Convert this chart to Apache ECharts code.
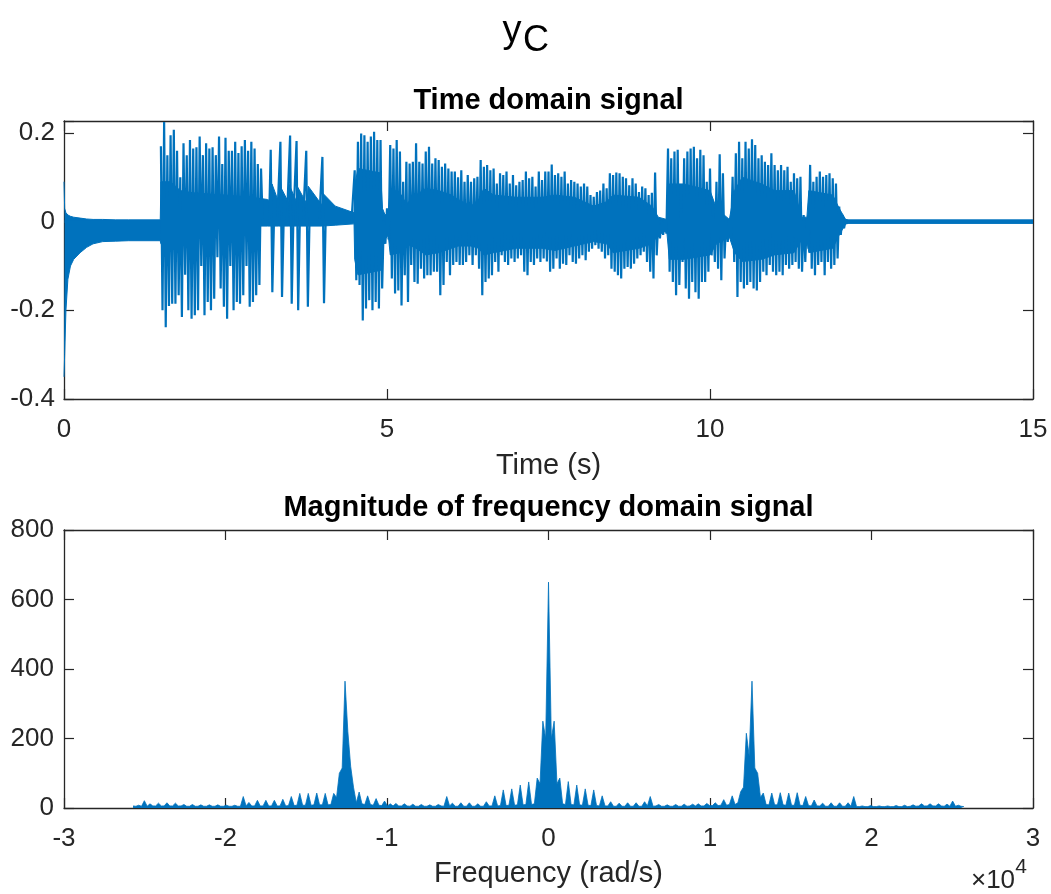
<!DOCTYPE html>
<html><head><meta charset="utf-8">
<script src="https://cdn.jsdelivr.net/npm/echarts@6/dist/echarts.min.js"></script>
<style>html,body{margin:0;padding:0;background:#fff}#c{width:1051px;height:894px}</style>
</head><body><div id="c"></div>
<script>
// ---------- Time-domain signal ----------
// Core (dense body) of the waveform: breakpoint times (s) and upper / lower edges
const bodyT = [0, 0.01, 0.03, 0.06, 0.1, 0.15, 0.25, 0.35, 0.45, 0.6, 0.8, 1.0, 1.49,
  1.5, 1.65, 1.8, 2.0, 2.5, 2.9, 3.15, 3.21, 3.22, 3.32, 3.33, 3.47, 3.48, 3.6, 3.61, 3.76, 3.78, 3.99, 4.0, 4.2, 4.49,
  4.5, 4.55, 4.9, 4.93, 4.97, 5.02, 5.05, 5.2, 5.3, 5.45, 5.6, 5.8, 6.0, 6.1, 6.3, 6.42, 6.5, 6.65, 7.0, 7.4,
  7.6, 7.9, 8.2, 8.4, 8.5, 8.9, 9.1, 9.2, 9.33, 9.37, 9.6, 10.0, 10.1, 10.3, 10.38, 10.5, 10.8, 11.0, 11.3, 11.42,
  11.5, 11.53, 11.9, 12.0, 12.1, 12.15, 15];
const bodyUp = [0.09, 0.03, 0.02, 0.015, 0.012, 0.01, 0.008, 0.006, 0.005, 0.005, 0.004, 0.004, 0.004,
  0.09, 0.09, 0.07, 0.065, 0.06, 0.055, 0.05, 0.045, 0.085, 0.045, 0.085, 0.045, 0.085, 0.045, 0.08, 0.04, 0.08, 0.038, 0.065, 0.035, 0.02,
  0.08, 0.12, 0.11, 0.03, 0.015, 0.02, 0.075, 0.065, 0.04, 0.06, 0.075, 0.07, 0.06, 0.05, 0.035, 0.05, 0.075, 0.06, 0.055, 0.055,
  0.06, 0.055, 0.035, 0.045, 0.06, 0.055, 0.035, 0.01, 0.005, 0.085, 0.085, 0.07, 0.03, 0.005, 0.07, 0.1, 0.085, 0.07, 0.07, 0.01,
  0.01, 0.07, 0.06, 0.03, 0.005, 0.004, 0.004];
const bodyLo = [-0.35, -0.3, -0.2, -0.13, -0.1, -0.085, -0.07, -0.058, -0.05, -0.045, -0.044, -0.043, -0.043,
  -0.05, -0.03, -0.015, -0.012, -0.01, -0.01, -0.01, -0.01, -0.01, -0.01, -0.01, -0.01, -0.01, -0.01, -0.01, -0.01, -0.01, -0.01, -0.01, -0.008, -0.005,
  -0.085, -0.12, -0.11, -0.055, -0.04, -0.03, -0.075, -0.07, -0.05, -0.06, -0.075, -0.07, -0.06, -0.055, -0.055, -0.06, -0.075, -0.07, -0.06, -0.06,
  -0.065, -0.055, -0.045, -0.05, -0.07, -0.06, -0.05, -0.03, -0.02, -0.085, -0.085, -0.075, -0.05, -0.035, -0.07, -0.09, -0.085, -0.075, -0.07, -0.04,
  -0.04, -0.07, -0.06, -0.03, -0.005, -0.004, -0.004];

// Spike peaks every 0.05 s from 1.5 s to 12.1 s (positive peaks, then negative troughs)
const spikeStart = 1.5, spikeStep = 0.05;
const spikeUp = [
  0.17, 0.225, 0.15, 0.195, 0.207, 0.16, 0.10, 0.177, 0.15, 0.184,
  0.165, 0.168, 0.192, 0.15, 0.177, 0.165, 0.168, 0.15, 0.192, 0.13,
  0.189, 0.16, 0.16, 0.18, 0.155, 0.17, 0.184, 0.16, 0.18, 0.165,
  0.13, 0.12, 0, 0, 0.162, 0, 0, 0.18, 0, 0,
  0.194, 0, 0.182, 0, 0, 0.16, 0, 0, 0, 0,
  0.146, 0, 0, 0, 0, 0, 0, 0, 0, 0,
  0.116, 0.18, 0.199, 0.195, 0.18, 0.192, 0.203, 0.184, 0.184, 0,
  0.03, 0.173, 0.165, 0.184, 0.158, 0.09, 0.135, 0.131, 0.135, 0.177,
  0.135, 0.131, 0.158, 0.169, 0.131, 0.143, 0.139, 0.124, 0.131, 0.12,
  0.113, 0.113, 0.1, 0.116, 0.09, 0.105, 0.09, 0.098, 0.101, 0.139,
  0.124, 0.128, 0.116, 0.12, 0.086, 0.109, 0.105, 0.113, 0.086, 0.105,
  0.082, 0.09, 0.094, 0.113, 0.098, 0.101, 0.079, 0.113, 0.094, 0.113,
  0.113, 0.129, 0.105, 0.109, 0.101, 0.113, 0.086, 0.094, 0.09, 0.086,
  0.079, 0.086, 0.079, 0.06, 0.056, 0.067, 0.07, 0.086, 0.075, 0.109,
  0.105, 0.111, 0.109, 0.101, 0.098, 0.082, 0.098, 0.086, 0.067, 0.079,
  0.075, 0.06, 0.065, 0.111, 0.007, 0.004, 0.004, 0.165, 0.143, 0.158,
  0.162, 0.03, 0.143, 0.158, 0.165, 0.169, 0.143, 0.162, 0.15, 0.09,
  0.12, 0.015, 0.09, 0.152, 0.109, 0.005, 0.005, 0.101, 0.154, 0.18,
  0.143, 0.18, 0.165, 0.186, 0.173, 0.143, 0.15, 0.135, 0.128, 0.154,
  0.128, 0.116, 0.128, 0.116, 0.124, 0.09, 0.109, 0.098, 0.101, 0.015,
  0.008, 0.128, 0.09, 0.101, 0.113, 0.101, 0.105, 0.109, 0.098, 0.086,
  0.034, 0.015, 0.005];
const spikeDn = [
  -0.2, -0.238, -0.19, -0.185, -0.185, -0.166, -0.215, -0.12, -0.2, -0.219,
  -0.211, -0.2, -0.1, -0.211, -0.181, -0.2, -0.174, -0.08, -0.151, -0.192,
  -0.219, -0.1, -0.2, -0.181, -0.185, -0.166, -0.1, -0.192, -0.181, -0.166,
  -0.143, 0, 0, 0, -0.159, 0, 0, -0.17, 0, 0,
  -0.185, 0, -0.2, 0, 0, -0.192, 0, 0, 0, 0,
  -0.184, 0, 0, 0, 0, 0, 0, 0, 0, 0,
  -0.132, -0.143, -0.223, -0.196, -0.177, -0.2, -0.181, -0.196, -0.151, -0.05,
  -0.04, -0.128, -0.162, -0.155, -0.189, -0.121, -0.181, -0.098, -0.136, -0.14,
  -0.106, -0.128, -0.121, -0.121, -0.113, -0.113, -0.166, -0.143, -0.091, -0.121,
  -0.098, -0.091, -0.098, -0.098, -0.091, -0.076, -0.098, -0.076, -0.106, -0.166,
  -0.136, -0.128, -0.121, -0.091, -0.113, -0.076, -0.091, -0.098, -0.083, -0.091,
  -0.083, -0.076, -0.113, -0.121, -0.091, -0.098, -0.083, -0.091, -0.083, -0.09,
  -0.113, -0.106, -0.083, -0.106, -0.095, -0.098, -0.076, -0.091, -0.095, -0.083,
  -0.076, -0.087, -0.068, -0.061, -0.053, -0.061, -0.068, -0.083, -0.076, -0.106,
  -0.113, -0.121, -0.128, -0.106, -0.102, -0.106, -0.095, -0.083, -0.076, -0.068,
  -0.091, -0.113, -0.128, -0.076, -0.038, -0.03, -0.027, -0.113, -0.136, -0.166,
  -0.143, -0.091, -0.151, -0.174, -0.136, -0.159, -0.174, -0.136, -0.136, -0.113,
  -0.076, -0.091, -0.106, -0.132, -0.083, -0.046, -0.038, -0.091, -0.17, -0.136,
  -0.151, -0.143, -0.136, -0.151, -0.155, -0.136, -0.113, -0.121, -0.098, -0.113,
  -0.121, -0.113, -0.121, -0.098, -0.106, -0.098, -0.091, -0.106, -0.113, -0.091,
  -0.061, -0.106, -0.121, -0.098, -0.091, -0.121, -0.091, -0.106, -0.098, -0.083,
  -0.03, -0.015, -0.005];

// ---------- Frequency-domain magnitude ----------
const freqStep = 175; // rad/s between read samples
const posMag = [ // 0, 175, 350, ... rad/s
  650, 200, 250, 70, 86, 12, 10, 76, 10, 9,
  66, 9, 8, 55, 8, 7, 52, 7, 6, 35,
  6, 6, 18, 5, 5, 14, 5, 5, 15, 5,
  5, 15, 5, 5, 18, 6, 33, 5, 6, 10,
  5, 5, 9, 5, 5, 10, 5, 5, 11, 5,
  6, 11, 6, 12, 6, 6, 13, 7, 7, 15,
  7, 8, 24, 8, 10, 35, 10, 15, 47, 60,
  215, 150, 365, 115, 100, 30, 43, 10, 9, 43,
  9, 9, 44, 9, 8, 43, 8, 8, 44, 8,
  7, 33, 7, 6, 23, 6, 6, 14, 5, 5,
  15, 5, 5, 15, 5, 5, 15, 5, 33, 4,
  4, 6, 4, 4, 7, 4, 4, 6, 4, 4,
  6, 4, 4, 7, 4, 4, 8, 4, 5, 9,
  5, 6, 12, 6, 6, 12, 6, 6, 12, 6,
  5, 11, 5, 20, 5, 8, 5, 4];
const negMag = [ // -175, -350, ... rad/s
  200, 250, 70, 86, 12, 10, 75, 10, 9, 66,
  9, 8, 55, 8, 7, 52, 7, 6, 35, 6,
  6, 18, 5, 5, 12, 5, 5, 15, 5, 5,
  15, 5, 5, 14, 6, 33, 5, 6, 10, 5,
  5, 9, 5, 5, 10, 5, 5, 11, 5, 6,
  12, 6, 6, 13, 6, 12, 6, 20, 7, 8,
  27, 8, 10, 35, 10, 12, 46, 15, 60, 120,
  220, 365, 115, 100, 30, 42, 10, 9, 42, 9,
  9, 43, 9, 8, 42, 8, 8, 42, 8, 7,
  33, 7, 6, 25, 6, 6, 22, 6, 6, 22,
  6, 6, 22, 6, 6, 16, 6, 33, 5, 5,
  8, 5, 5, 8, 5, 5, 9, 5, 5, 9,
  5, 5, 9, 5, 5, 10, 5, 5, 10, 6,
  6, 14, 6, 6, 15, 6, 6, 14, 6, 6,
  12, 5, 21, 5, 8, 5, 6];

// tick labels
const timeTicks = [0, 5, 10, 15];
const ampTicks = [-0.4, -0.2, 0, 0.2];
const freqTicks = [-3, -2, -1, 0, 1, 2, 3];   // x 10^4
const magTicks = [0, 200, 400, 600, 800];

// ---------- build ----------
const FONT = '"Liberation Sans", Arial, Helvetica, sans-serif';
const AX = '#262626';
const BLUE = '#0072BD';
const zip = (xs, ys) => xs.map((x, i) => [x, ys[i]]);
const bodyUpPts = zip(bodyT, bodyUp);
const bodyLoPts = zip(bodyT, bodyLo);
const sig = [];
spikeUp.forEach((v, k) => {
  const t = spikeStart + k * spikeStep;
  sig.push([t, v]);
  sig.push([t + spikeStep / 2, spikeDn[k]]);
});
const spec = [];
for (let j = negMag.length; j >= 1; j--) spec.push([-j * freqStep, negMag[j - 1]]);
posMag.forEach((v, i) => spec.push([i * freqStep, v]));

const tick = {show: true, inside: true, length: 10, lineStyle: {color: AX, width: 1.2}};
const axLine = {show: true, onZero: false, lineStyle: {color: AX, width: 1.3}};
const lab = (m, fmt) => ({show: true, fontSize: 26, color: AX, fontFamily: FONT, margin: m, formatter: fmt});
const pick = (list, scale) => v => {
  for (const t of list) if (Math.abs(v - t * scale) < 1e-6 * Math.max(1, scale)) return String(t);
  return '';
};
const common = {type: 'value', splitLine: {show: false}, axisLine: axLine, axisTick: tick};

const chart = echarts.init(document.getElementById('c'), null, {renderer: 'canvas', width: 1051, height: 894});
chart.setOption({
  animation: false,
  backgroundColor: '#fff',
  grid: [
    {left: 64, right: 18, top: 121, height: 278, show: false},
    {left: 64, right: 18, top: 530, height: 278, show: false}
  ],
  xAxis: [
    Object.assign({gridIndex: 0, min: 0, max: 15, interval: 5, position: 'bottom', axisLabel: lab(18, pick(timeTicks, 1))}, common),
    Object.assign({gridIndex: 0, min: 0, max: 15, interval: 5, position: 'top', axisLabel: {show: false}}, common),
    Object.assign({gridIndex: 1, min: -30000, max: 30000, interval: 10000, position: 'bottom', axisLabel: lab(18, pick(freqTicks, 10000))}, common),
    Object.assign({gridIndex: 1, min: -30000, max: 30000, interval: 10000, position: 'top', axisLabel: {show: false}}, common)
  ],
  yAxis: [
    Object.assign({gridIndex: 0, min: -0.4, max: 0.227, interval: 0.2, position: 'left', axisLabel: lab(9, pick(ampTicks, 1))}, common),
    Object.assign({gridIndex: 0, min: -0.4, max: 0.227, interval: 0.2, position: 'right', axisLabel: {show: false}}, common),
    Object.assign({gridIndex: 1, min: 0, max: 800, interval: 200, position: 'left', axisLabel: lab(10, pick(magTicks, 1))}, common),
    Object.assign({gridIndex: 1, min: 0, max: 800, interval: 200, position: 'right', axisLabel: {show: false}}, common)
  ],
  series: [
    {type: 'line', xAxisIndex: 0, yAxisIndex: 0, data: bodyUpPts, symbol: 'none', silent: true,
     lineStyle: {color: BLUE, width: 1}, areaStyle: {color: BLUE, opacity: 1, origin: -0.003}},
    {type: 'line', xAxisIndex: 0, yAxisIndex: 0, data: bodyLoPts, symbol: 'none', silent: true,
     lineStyle: {color: BLUE, width: 1}, areaStyle: {color: BLUE, opacity: 1, origin: 0.003}},
    {type: 'line', xAxisIndex: 0, yAxisIndex: 0, data: sig, symbol: 'none', silent: true,
     lineStyle: {color: BLUE, width: 2.2}},
    {type: 'line', xAxisIndex: 2, yAxisIndex: 2, data: spec, symbol: 'none', silent: true,
     lineStyle: {color: BLUE, width: 0.8}, areaStyle: {color: BLUE, opacity: 1}}
  ],
  graphic: [
    {type: 'text', x: 512, y: 32, style: {text: 'y', font: '38px ' + FONT, fill: '#000', textAlign: 'center', textVerticalAlign: 'middle', align: 'center', verticalAlign: 'middle'}},
    {type: 'text', x: 536, y: 41, style: {text: 'C', font: '36px ' + FONT, fill: '#000', textAlign: 'center', textVerticalAlign: 'middle', align: 'center', verticalAlign: 'middle'}},
    {type: 'text', x: 548.5, y: 101, style: {text: 'Time domain signal', font: 'bold 29px ' + FONT, fill: '#000', textAlign: 'center', textVerticalAlign: 'middle', align: 'center', verticalAlign: 'middle'}},
    {type: 'text', x: 548.5, y: 466, style: {text: 'Time (s)', font: '29px ' + FONT, fill: AX, textAlign: 'center', textVerticalAlign: 'middle', align: 'center', verticalAlign: 'middle'}},
    {type: 'text', x: 548.5, y: 508, style: {text: 'Magnitude of frequency domain signal', font: 'bold 29px ' + FONT, fill: '#000', textAlign: 'center', textVerticalAlign: 'middle', align: 'center', verticalAlign: 'middle'}},
    {type: 'text', x: 548.5, y: 874, style: {text: 'Frequency (rad/s)', font: '29px ' + FONT, fill: AX, textAlign: 'center', textVerticalAlign: 'middle', align: 'center', verticalAlign: 'middle'}},
    {type: 'text', x: 993, y: 881, style: {text: '\u00d710', font: '26px ' + FONT, fill: AX, textAlign: 'center', textVerticalAlign: 'middle', align: 'center', verticalAlign: 'middle'}},
    {type: 'text', x: 1021, y: 867, style: {text: '4', font: '21px ' + FONT, fill: AX, textAlign: 'center', textVerticalAlign: 'middle', align: 'center', verticalAlign: 'middle'}}
  ]
});
</script>
</body></html>
